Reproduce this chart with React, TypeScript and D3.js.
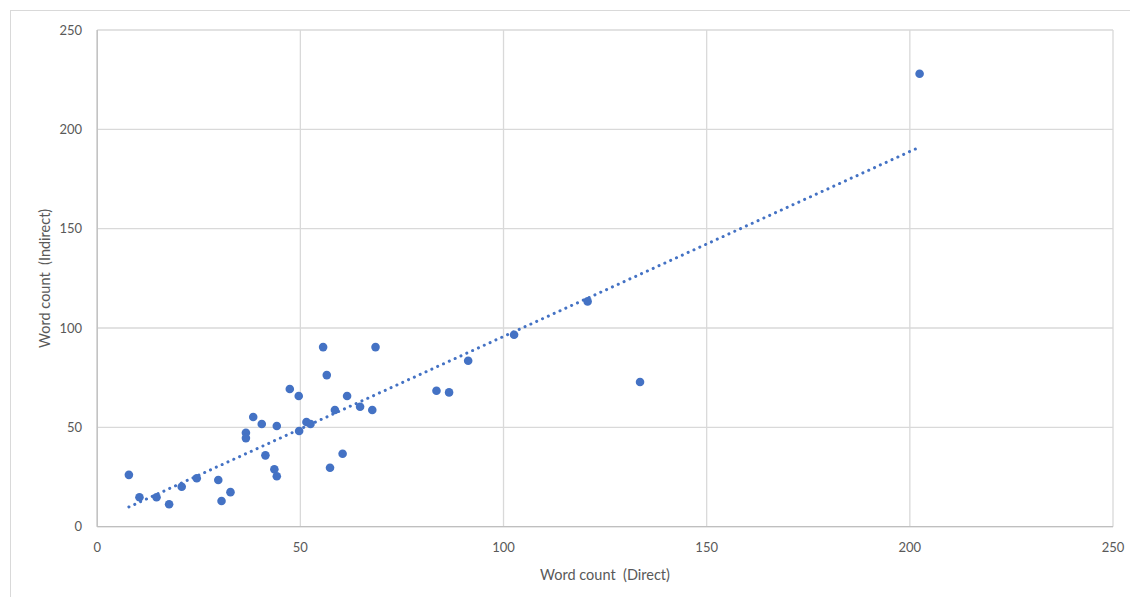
import React from "react";
import * as d3 from "d3";

const directCounts = [7.8, 10.4, 14.6, 17.7, 20.8, 24.5, 29.8, 30.6, 32.8, 36.6, 36.6, 38.4, 40.5, 41.4, 43.6, 44.2, 44.2, 47.4, 49.6, 49.7, 51.5, 52.5, 55.6, 56.5, 57.3, 58.5, 60.4, 61.5, 64.7, 67.7, 68.5, 83.5, 86.6, 91.3, 102.6, 120.7, 133.6, 202.4];
const indirectCounts = [26.1, 14.8, 14.8, 11.3, 20.1, 24.4, 23.5, 12.9, 17.4, 47.3, 44.6, 55.2, 51.7, 35.9, 28.9, 25.4, 50.7, 69.3, 65.8, 48.2, 52.7, 51.7, 90.4, 76.3, 29.7, 58.7, 36.7, 65.8, 60.4, 58.7, 90.4, 68.4, 67.6, 83.5, 96.6, 113.4, 72.8, 228.0];
const xTicks = [0, 50, 100, 150, 200, 250];
const yTicks = [0, 50, 100, 150, 200, 250];
const xTitle = "Word count  (Direct)";
const yTitle = "Word count  (Indirect)";

export default function App() {
  const W = 1130, H = 597;
  const left = 97.2, right = 1113, top = 30, bottom = 526.7;
  const x = d3.scaleLinear().domain([0, 250]).range([left, right]);
  const y = d3.scaleLinear().domain([0, 250]).range([bottom, top]);

  const pts = directCounts.map((d, i) => [d, indirectCounts[i]] as [number, number]);
  const mx = d3.mean(directCounts)!;
  const my = d3.mean(indirectCounts)!;
  let sxy = 0, sxx = 0;
  pts.forEach(([a, b]) => { sxy += (a - mx) * (b - my); sxx += (a - mx) * (a - mx); });
  const slope = sxy / sxx;
  const intercept = my - slope * mx;
  const x0 = d3.min(directCounts)!, x1 = d3.max(directCounts)!;
  const line = d3.line<[number, number]>().x(d => x(d[0])).y(d => y(d[1]));
  const trend = line([[x0, intercept + slope * x0], [x1, intercept + slope * x1]]) || "";

  const font = "Lato, 'Open Sans', sans-serif";
  const grid = "#d9d9d9";
  const txt = "#595959";

  return (
    <svg width={W} height={H} style={{ position: "absolute", left: 0, top: 0, background: "#fff" }}>
      <rect x={10.5} y={10.5} width={W + 20} height={H + 20} fill="none" stroke={grid} strokeWidth={1} />
      {xTicks.map(t => (
        <line key={"gx" + t} x1={x(t)} x2={x(t)} y1={top} y2={bottom} stroke={grid} strokeWidth={1.3} />
      ))}
      {yTicks.map(t => (
        <line key={"gy" + t} x1={left} x2={right} y1={y(t)} y2={y(t)} stroke={grid} strokeWidth={1.3} />
      ))}
      <line x1={left} x2={left} y1={top} y2={bottom} stroke="#bfbfbf" strokeWidth={1.3} />
      <line x1={left} x2={right} y1={bottom} y2={bottom} stroke="#bfbfbf" strokeWidth={1.3} />
      {yTicks.map(t => (
        <text key={"ty" + t} x={82} y={y(t)} dy="0.35em" textAnchor="end" fontFamily={font} fontSize={13} fill={txt}>{t}</text>
      ))}
      {xTicks.map(t => (
        <text key={"tx" + t} x={x(t)} y={552} textAnchor="middle" fontFamily={font} fontSize={13} fill={txt}>{t}</text>
      ))}
      <text x={605} y={580} textAnchor="middle" fontFamily={font} fontSize={14.5} fill={txt} style={{ whiteSpace: "pre" }}>{xTitle}</text>
      <text transform={`translate(50,${(top + bottom) / 2}) rotate(-90)`} textAnchor="middle" fontFamily={font} fontSize={14.5} fill={txt} style={{ whiteSpace: "pre" }}>{yTitle}</text>
      {pts.map(([a, b], i) => (
        <circle key={i} cx={x(a)} cy={y(b)} r={4.3} fill="#4472C4" />
      ))}
      <path d={trend} fill="none" stroke="#4472C4" strokeWidth={3} strokeLinecap="round" strokeDasharray="0.1 6.3" />
    </svg>
  );
}
